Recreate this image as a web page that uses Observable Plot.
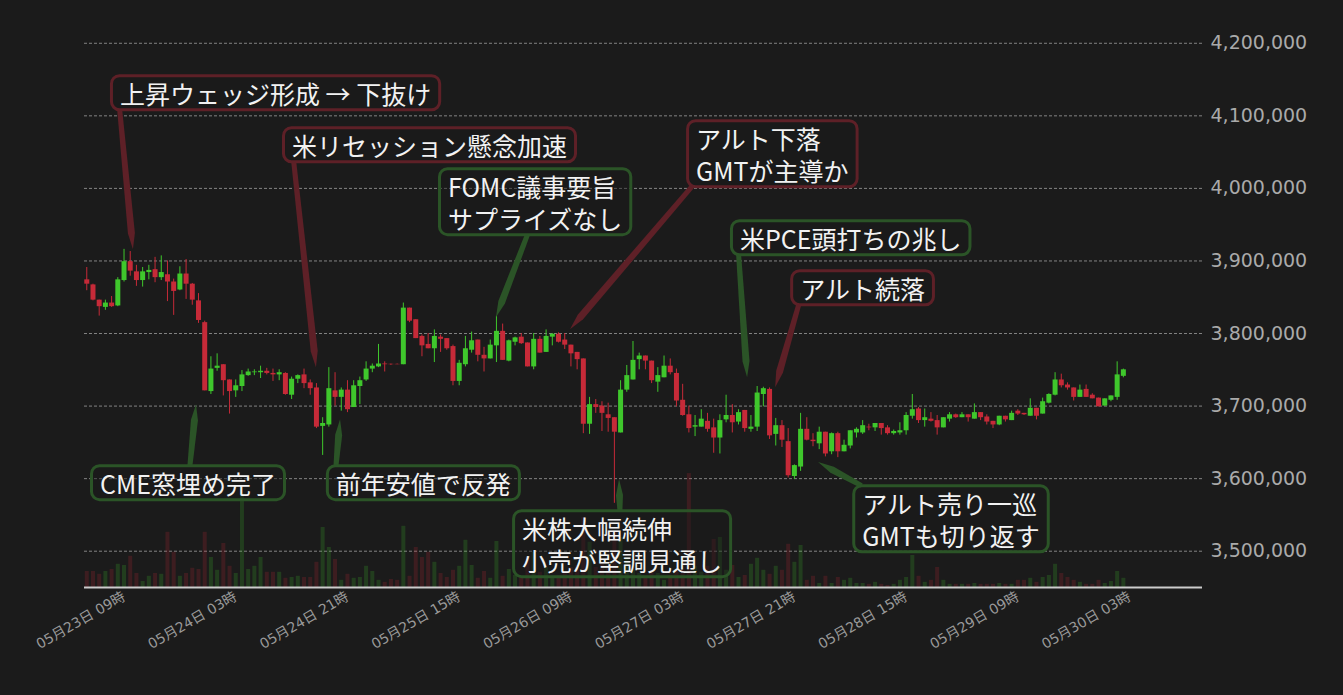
<!DOCTYPE html>
<html>
<head>
<meta charset="utf-8">
<script src="https://cdn.jsdelivr.net/npm/d3@7"></script>
<script src="https://cdn.jsdelivr.net/npm/@observablehq/plot@0.6"></script>
<style>
  html, body { margin: 0; padding: 0; background: #1b1b1b; }
  #chart svg { display: block; }
</style>
</head>
<body>
<div id="chart"></div>
<script>
// ---- Data (BTC/JPY 1h, values in thousand yen) ----
const startTime = "2022-05-23T03:00:00Z";
const open = [3874,3867,3846,3836,3842,3838,3873,3899,3885,3873,3884,3888,3877,3881,3871,3860,3882,3868,3845,3815,3720,3752,3757,3736,3721,3727,3742,3746,3746,3748,3745,3743,3745,3715,3737,3743,3732,3725,3672,3674,3721,3712,3722,3698,3727,3736,3751,3754,3758,3757.6,3757.5,3757,3835,3819,3796,3785,3779,3795,3793,3782,3734,3757,3777,3791,3770,3765,3783,3803,3762,3788,3795,3787,3754,3792,3774,3795,3799,3791,3784,3774,3765,3675,3702,3700,3688,3684,3663,3722,3736,3764,3769,3762,3733,3739,3755,3745,3708,3688,3671,3671,3679,3670,3656,3681,3687,3678,3694,3668,3671,3716,3723,3661,3673,3651,3603,3616,3668,3653,3648,3664,3637,3662,3637,3645,3663,3663,3671,3670,3676,3670,3662,3663,3666,3686,3696,3680,3682,3680,3670,3682,3688,3684,3688,3682,3691,3685,3679,3674,3686,3680,3693,3690,3686,3697,3689,3704,3715,3736,3729,3725,3712,3723,3715,3711,3700,3708,3712,3741];
const high = [3891,3868,3846,3846,3851,3877,3916,3913,3894,3891,3894,3905,3907,3900,3875,3892,3902,3869,3855,3817,3768,3772,3757,3736,3736,3749,3751,3750,3755,3752,3751,3750,3746,3740,3743,3751,3736,3731,3684,3753,3746,3725,3735,3735,3740,3761,3758,3785,3761,3758,3758,3842,3835,3819,3798,3800,3805,3798,3793,3784,3763,3796,3802,3791,3781,3791,3824,3813,3791,3795,3800,3787,3800,3796,3805,3800,3801,3800,3784,3774,3765,3712,3709,3706,3704,3684,3735,3756,3789,3773,3769,3762,3753,3769,3765,3751,3730,3700,3687,3695,3690,3682,3688,3715,3702,3695,3694,3687,3727,3726,3725,3683,3680,3669,3619,3690,3684,3662,3671,3664,3663,3664,3653,3666,3670,3680,3675,3676,3676,3673,3667,3677,3691,3716,3698,3696,3691,3687,3684,3691,3689,3691,3688,3703,3691,3688,3679,3686,3686,3693,3695,3690,3710,3697,3711,3717,3746,3744,3732,3725,3729,3729,3717,3711,3710,3714,3761,3751];
const low = [3859,3845,3824,3832,3836,3837,3871,3879,3865,3864,3874,3870,3873,3844,3825,3859,3847,3839,3814,3721,3716,3748,3714,3689,3712,3720,3741,3742,3738,3743,3734,3735,3715,3709,3731,3724,3715,3669,3632,3671,3700,3693,3691,3698,3702,3734,3746,3753,3747,3756,3757,3757,3815,3793,3768,3779,3760,3774,3777,3728,3728,3754,3773,3761,3747,3765,3760,3763,3761,3783,3785,3754,3750,3773,3774,3783,3787,3778,3754,3750,3662,3661,3690,3665,3664,3566,3663,3719,3736,3750,3750,3731,3719,3739,3743,3699,3686,3663,3658,3671,3664,3635,3634,3677,3663,3674,3664,3664,3665,3699,3654,3645,3643,3601,3599,3610,3652,3644,3640,3630,3633,3629,3637,3641,3656,3661,3666,3665,3660,3660,3660,3660,3660,3682,3676,3671,3678,3660,3670,3678,3683,3684,3678,3682,3680,3674,3669,3673,3678,3680,3687,3687,3686,3681,3689,3703,3714,3725,3722,3707,3712,3712,3710,3699,3700,3706,3708,3739];
const close = [3868,3846,3837,3842,3837,3874,3899,3886,3873,3885,3887,3877,3884,3871,3858,3882,3868,3846,3818,3721,3751,3755,3735,3720,3728,3743,3747,3747,3748,3745,3743,3746,3716,3737,3742,3731,3724,3671,3676,3724,3712,3722,3695,3728,3735,3751,3755,3758,3757,3757.0,3757,3835,3817,3793,3783,3779,3796,3792,3779,3734,3759,3779,3790,3770,3765,3784,3803,3763,3790,3794,3786,3754,3792,3773,3796,3799,3788,3784,3772,3764,3675,3702,3698,3690,3683,3664,3722,3742,3763,3769,3762,3735,3742,3755,3746,3707,3687,3669,3673,3682,3668,3656,3680,3687,3677,3691,3669,3671,3718,3724,3659,3673,3653,3604,3618,3668,3653,3651,3664,3634,3662,3637,3646,3666,3668,3673,3670,3676,3669,3662,3665,3666,3687,3695,3680,3684,3679,3670,3684,3688,3684,3688,3684,3691,3684,3678,3674,3686,3681,3690,3689,3688,3697,3686,3706,3716,3736,3728,3725,3712,3722,3712,3710,3699,3710,3714,3743,3750];
const volume = [40,40,33,40,45,58,55,78,35,15,28,35,33,138,88,28,35,48,45,138,75,43,110,53,35,235,45,53,75,38,38,38,23,25,28,25,25,63,150,100,70,18,33,23,25,53,40,18,13,20,18,153,28,100,75,88,63,35,25,43,53,118,55,23,40,23,115,28,45,30,25,75,88,38,50,25,30,38,50,55,175,113,50,63,55,138,125,75,43,35,25,43,35,18,30,43,43,285,53,38,53,120,125,43,55,25,30,58,73,43,33,53,43,108,63,105,18,28,10,28,10,25,18,23,10,10,8,13,8,5,8,18,25,80,28,13,18,50,18,8,8,8,8,10,8,8,8,10,8,8,18,18,23,13,25,30,58,35,25,18,13,8,8,18,10,15,40,23];

const yTicks = [3500000,3600000,3700000,3800000,3900000,4000000,4100000,4200000];
const xTicks = ["2022-05-23T09:00:00Z","2022-05-24T03:00:00Z","2022-05-24T21:00:00Z","2022-05-25T15:00:00Z","2022-05-26T09:00:00Z","2022-05-27T03:00:00Z","2022-05-27T21:00:00Z","2022-05-28T15:00:00Z","2022-05-29T09:00:00Z","2022-05-30T03:00:00Z"];

// Annotations: text lines, tone, box top-left (time, price), pointer tip (time, price)
const noteText = [
  ["上昇ウェッジ形成 → 下抜け"],
  ["米リセッション懸念加速"],
  ["FOMC議事要旨","サプライズなし"],
  ["アルト下落","GMTが主導か"],
  ["米PCE頭打ちの兆し"],
  ["アルト続落"],
  ["CME窓埋め完了"],
  ["前年安値で反発"],
  ["米株大幅続伸","小売が堅調見通し"],
  ["アルト売り一巡","GMTも切り返す"]
];
const noteTone = ["bear","bear","bull","bear","bull","bear","bull","bull","bull","bull"];
const noteBoxTime = ["2022-05-23T06:49:00Z","2022-05-24T10:32:00Z","2022-05-25T11:40:00Z","2022-05-27T03:38:00Z","2022-05-27T10:42:00Z","2022-05-27T20:24:00Z","2022-05-23T03:36:00Z","2022-05-24T17:36:00Z","2022-05-25T23:36:00Z","2022-05-28T06:24:00Z"];
const noteBoxPrice = [4156700,4085000,4028600,4094700,3956900,3888000,3619300,3619300,3557300,3591700];
const noteTipTime = ["2022-05-23T10:31:00Z","2022-05-24T16:00:00Z","2022-05-25T21:00:00Z","2022-05-26T08:56:00Z","2022-05-27T13:28:00Z","2022-05-27T17:59:00Z","2022-05-23T20:41:00Z","2022-05-24T19:53:00Z","2022-05-26T16:50:00Z","2022-05-28T00:54:00Z"];
const noteTipPrice = [3915600,3753000,3821900,3805300,3739200,3725400,3702000,3681300,3598600,3622100];

// ---- layout / style options ----
const tailSide = ["bottom","bottom","bottom","bottom","bottom","bottom","top","top","top","top"];
const tailFrac = [0.025,0.035,0.46,0.025,0.03,0.05,0.51,0.045,0.49,0.04];
const UP = "#3fc72c", DOWN = "#c62a38";
const toneColor = {bull: "#2b5427", bear: "#5e2027"};
const priceBase = 3450000;
const volToPrice = 551; // volume drawn in the lower band of the price axis

const rows = open.map((o, i) => ({
  t: new Date(new Date(startTime).getTime() + i * 3600e3),
  o: o * 1000, h: high[i] * 1000, l: low[i] * 1000, c: close[i] * 1000, v: volume[i]
}));
const col = d => d.c >= d.o ? UP : DOWN;

const chart = Plot.plot({
  width: 1343,
  height: 695,
  marginLeft: 84,
  marginRight: 141,
  marginTop: 21,
  marginBottom: 108,
  style: {background: "#1b1b1b", color: "#aaa", fontFamily: "'DejaVu Sans', 'Noto Sans CJK JP', sans-serif"},
  x: {type: "utc", label: null, domain: [new Date("2022-05-23T02:38:00Z"), new Date("2022-05-30T14:45:00Z")]},
  y: {label: null, domain: [3450000, 4230000]},
  marks: [
    Plot.gridY(yTicks, {stroke: "#bbb", strokeOpacity: 0.65, strokeDasharray: "3,2"}),
    Plot.ruleX(rows, {x: "t", y1: priceBase, y2: d => priceBase + d.v * volToPrice, stroke: col, strokeWidth: 4, strokeOpacity: 0.2}),
    Plot.ruleY([priceBase], {stroke: "#ccc", strokeWidth: 2}),
    Plot.ruleX(rows, {x: "t", y1: "l", y2: "h", stroke: col, strokeWidth: 1}),
    Plot.ruleX(rows, {x: "t", y1: "o", y2: "c", stroke: col, strokeWidth: 5}),
    Plot.axisY(yTicks, {anchor: "right", label: null, tickSize: 0, tickPadding: 8, tickFormat: d3.format(","), fontSize: 19, fill: "#aaa"}),
    Plot.axisX(xTicks.map(s => new Date(s)), {label: null, tickRotate: -30, tickSize: 0, tickPadding: 8, tickFormat: d3.utcFormat("%m月%d日 %H時"), fontSize: 14, fill: "#999"})
  ]
});
document.getElementById("chart").append(chart);

// ---- annotations placed through the plot's own scales ----
const sx = chart.scale("x"), sy = chart.scale("y");
const layer = d3.select(chart).append("g").attr("class", "notes");
const fontSize = 25, lineH = 32, padX = 7, padY = 1, rx = 8, bw = 3;
noteText.forEach((lines, i) => {
  const color = toneColor[noteTone[i]];
  const g = layer.append("g");
  const x0 = sx.apply(new Date(noteBoxTime[i])), y0 = sy.apply(noteBoxPrice[i]);
  const text = g.append("text")
    .attr("font-family", "'Noto Sans CJK JP', sans-serif")
    .attr("font-size", fontSize)
    .attr("text-anchor", "start")
    .attr("fill", "#f2f2f2");
  lines.forEach((line, j) => {
    text.append("tspan")
      .attr("x", x0 + bw + padX)
      .attr("y", y0 + bw / 2 + padY + (j + 0.5) * lineH)
      .attr("dominant-baseline", "central")
      .text(line);
  });
  const bb = text.node().getBBox();
  const w = bb.width + 2 * padX + bw;
  const h = lines.length * lineH + 2 * padY;
  const rxp = x0 + bw / 2, ryp = y0 + bw / 2;
  // tail
  const bx = rxp + tailFrac[i] * w;
  const by = tailSide[i] === "bottom" ? ryp + h : ryp;
  const tx = sx.apply(new Date(noteTipTime[i])), ty = sy.apply(noteTipPrice[i]);
  const dx = tx - bx, dy = ty - by, L = Math.hypot(dx, dy);
  const ux = dx / L, uy = dy / L, nx = -uy, ny = ux;
  const near = Math.max(L - 16, 0);
  const pts = [
    [bx + nx * 2.5, by + ny * 2.5],
    [bx + ux * near + nx * 3.5, by + uy * near + ny * 3.5],
    [tx, ty],
    [bx + ux * near - nx * 3.5, by + uy * near - ny * 3.5],
    [bx - nx * 2.5, by - ny * 2.5]
  ];
  g.insert("path", "text").attr("d", "M" + pts.map(p => p.join(",")).join("L") + "Z").attr("fill", color);
  g.insert("rect", "text")
    .attr("x", rxp).attr("y", ryp).attr("width", w).attr("height", h)
    .attr("rx", rx).attr("ry", rx)
    .attr("fill", "#1b1b1b").attr("fill-opacity", 0.45)
    .attr("stroke", color).attr("stroke-width", bw);
});
</script>
</body>
</html>
